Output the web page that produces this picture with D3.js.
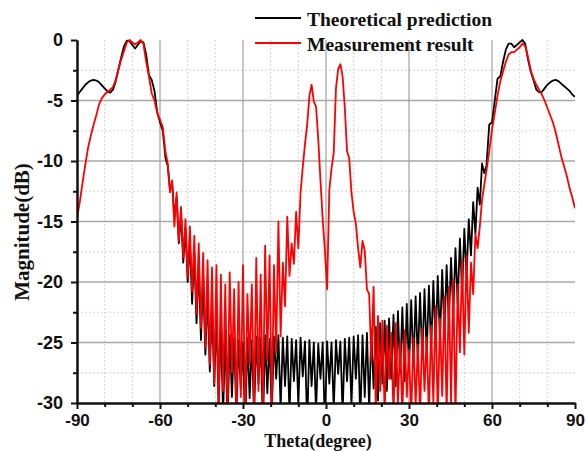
<!DOCTYPE html>
<html>
<head>
<meta charset="utf-8">
<script src="https://cdn.jsdelivr.net/npm/d3@7"></script>
<style>
  body { margin: 0; background: #fff; }
  svg { display: block; }
</style>
</head>
<body>
<svg id="drawing_region"></svg>
<script>
// sample grid of the angle axis (degrees)
const theta = [].concat(
    d3.range(-90, -57.5, 1),
    d3.range(-57.2, 57.3, 0.8),
    d3.range(58, 90.5, 1)
);

// Theoretical prediction (dB)
const theory_left = [
    -4.6, -4.3, -4.0, -3.7, -3.5, -3.35, -3.3, -3.35, -3.5, -3.75,
    -4.0, -4.25, -4.35, -4.1, -3.4, -2.4, -1.4, -0.5, -0.05, -0.1,
    -0.4, -0.7, -0.4, -0.1, -0.2, -1.2, -2.9, -3.3, -4.2, -6.0,
    -6.8, -7.5, -9.8
];
const theory_mid = [
    -10.4, -12.3, -11.9, -14.6, -13.0, -16.8, -14.4, -18.4, -15.6, -20.0,
    -16.6, -21.8, -17.6, -23.4, -18.6, -24.8, -19.8, -26.0, -20.8, -27.4,
    -21.8, -28.6, -22.6, -30.5, -23.4, -31, -24.0, -32, -24.4, -29.5,
    -24.6, -31, -24.8, -28.8, -25.0, -32, -24.6, -29.6, -24.8, -31,
    -24.5, -28.4, -24.6, -32, -24.4, -29.2, -24.7, -31, -24.5, -28.0,
    -24.4, -30.5, -24.6, -28.6, -24.5, -31, -24.7, -28.2, -24.8, -30.2,
    -24.6, -27.8, -24.9, -32, -24.8, -28.6, -25.0, -30.8, -25.1, -28.0,
    -25.0, -32, -24.9, -28.4, -25.0, -30.6, -24.8, -27.6, -24.9, -31,
    -24.7, -28.2, -24.6, -30.2, -24.5, -28.0, -24.4, -31.5, -24.4, -29.5,
    -24.2, -30.5, -24.0, -28.8, -23.7, -29.8, -23.4, -28.4, -23.2, -29.0,
    -23.0, -28.0, -22.7, -28.6, -22.4, -27.6, -22.1, -28.2, -21.8, -27.2,
    -21.5, -27.0, -21.2, -26.6, -20.9, -26.4, -20.6, -26.0, -20.3, -25.6,
    -19.9, -25.2, -19.5, -24.8, -19.0, -24.2, -18.6, -23.4, -18.0, -22.6,
    -17.2, -21.8, -16.4, -20.8, -15.6, -19.6, -14.8, -17.8, -13.4, -16.0,
    -12.2, -13.6, -10.2, -11.0
];
const theory_right = [
    -10.4, -7.0, -6.8, -5.0, -3.2, -3.0, -1.8, -0.8, -0.3, -0.3,
    -0.6, -0.4, -0.2, 0, -0.3, -1.6, -2.6, -3.3, -4.1, -4.3,
    -4.3, -4.0, -3.7, -3.5, -3.35, -3.3, -3.4, -3.6, -3.8, -4.0,
    -4.2, -4.5, -4.7
];

// Measurement result (dB)
const measured_left = [
    -14.7, -13.4, -11.8, -10.3, -8.9, -7.9, -7.0, -6.2, -5.3, -4.8,
    -4.5, -4.3, -4.1, -3.9, -3.3, -2.4, -1.6, -0.9, -0.2, 0,
    -0.2, -0.35, -0.2, 0, -0.3, -1.8, -3.0, -4.4, -5.0, -6.0,
    -6.6, -7.2, -9.3
];
const measured_mid = [
    -10.2, -12.6, -11.6, -15.4, -12.6, -16.6, -13.8, -18.0, -14.8, -19.6,
    -15.4, -20.8, -16.2, -22.6, -16.8, -23.8, -17.6, -25.4, -18.2, -26.8,
    -18.8, -28.4, -18.6, -30.5, -19.4, -29.0, -20.2, -31, -19.2, -27.5,
    -20.6, -31, -20.0, -29.5, -18.6, -31, -21.0, -26.8, -20.2, -31,
    -18.0, -29.0, -19.4, -31, -17.0, -26.5, -17.8, -30.5, -18.6, -25.8,
    -15.0, -24.5, -18.4, -22.0, -14.6, -19.5, -16.8, -18.5, -14.2, -17.2,
    -12.6, -10.5, -8.6, -7.0, -4.6, -3.7, -5.1, -5.5, -8.2, -11.6,
    -14.8, -17.4, -20.6, -12.4, -10.6, -9.3, -4.0, -2.4, -2.0, -3.0,
    -5.6, -9.2, -9.8, -12.6, -14.2, -15.2, -17.2, -18.8, -16.6, -17.4,
    -20.6, -21.0, -26.5, -20.4, -30.5, -22.8, -29.0, -23.2, -31, -23.6,
    -28.0, -24.2, -31, -23.4, -30.0, -25.0, -31, -24.0, -29.5, -25.6,
    -31, -24.6, -30.2, -25.2, -31, -23.8, -29.0, -24.6, -31, -23.6,
    -30.0, -22.0, -31, -23.0, -29.4, -21.2, -31, -20.4, -30.0, -19.8,
    -31, -20.2, -25.8, -18.2, -26.0, -17.8, -24.2, -18.4, -21.0, -16.0,
    -17.2, -15.4, -13.2, -12.0
];
const measured_right = [
    -10.8, -9.2, -7.4, -6.0, -4.6, -3.4, -2.6, -1.8, -1.2, -1.0,
    -1.0, -0.8, -0.6, -0.3, -0.5, -1.4, -2.5, -3.2, -3.7, -4.1,
    -4.5, -5.0, -5.6, -6.2, -6.8, -7.6, -8.6, -9.6, -10.4, -11.2,
    -12.2, -13.0, -13.9
];

const x_ticks = [-90, -60, -30, 0, 30, 60, 90];
const y_ticks = [-30, -25, -20, -15, -10, -5, 0];
const series_names = ['Theoretical prediction', 'Measurement result'];

class LineChart {

    constructor( config, data ) {
        this.config = {
            parent: config.parent,
            width: config.width || 587,
            height: config.height || 451,
            margin: config.margin || {top:40, right:12, bottom:48, left:77}
        };
        this.data = data;
        this.init();
    }

    init() {
        let self = this;

        self.svg = d3.select( self.config.parent )
            .attr('width', self.config.width)
            .attr('height', self.config.height);

        self.inner_width = self.config.width - self.config.margin.left - self.config.margin.right;
        self.inner_height = self.config.height - self.config.margin.top - self.config.margin.bottom;

        self.chart = self.svg.append('g')
            .attr('transform', `translate(${self.config.margin.left}, ${self.config.margin.top})`);

        self.xscale = d3.scaleLinear()
            .domain([-90, 90])
            .range([0, self.inner_width]);

        self.yscale = d3.scaleLinear()
            .domain([-30, 0])
            .range([self.inner_height, 0]);

        self.svg.append('clipPath').attr('id', 'plot_clip')
            .append('rect')
            .attr('x', 0).attr('y', -10)
            .attr('width', self.inner_width)
            .attr('height', self.inner_height + 10);
    }

    render() {
        let self = this;
        const W = self.inner_width, H = self.inner_height;

        // minor dashed grid
        const grid = self.chart.append('g');
        grid.selectAll('.vminor')
            .data(d3.range(-80, 90, 10).filter(v => v % 30 !== 0))
            .join('line')
            .attr('x1', d => self.xscale(d)).attr('x2', d => self.xscale(d))
            .attr('y1', 0).attr('y2', H)
            .attr('stroke', '#d4d4d4').attr('stroke-dasharray', '2,2');
        grid.selectAll('.hminor')
            .data(d3.range(-27.5, 0, 5))
            .join('line')
            .attr('y1', d => self.yscale(d)).attr('y2', d => self.yscale(d))
            .attr('x1', 0).attr('x2', W)
            .attr('stroke', '#d4d4d4').attr('stroke-dasharray', '2,2');

        // major grid
        grid.selectAll('.vmajor')
            .data(x_ticks.filter(v => v > -90 && v < 90))
            .join('line')
            .attr('x1', d => self.xscale(d)).attr('x2', d => self.xscale(d))
            .attr('y1', 0).attr('y2', H)
            .attr('stroke', '#a8a8a8').attr('stroke-width', 1.3);
        grid.selectAll('.hmajor')
            .data(y_ticks.filter(v => v > -30 && v < 0))
            .join('line')
            .attr('y1', d => self.yscale(d)).attr('y2', d => self.yscale(d))
            .attr('x1', 0).attr('x2', W)
            .attr('stroke', '#a8a8a8').attr('stroke-width', 1.3);

        // curves
        const line = d3.line()
            .x(d => self.xscale(d.theta))
            .y(d => self.yscale(d.value));

        self.chart.append('g')
            .attr('clip-path', 'url(#plot_clip)')
            .selectAll('path')
            .data(self.data)
            .join('path')
            .attr('d', d => line(d.values))
            .attr('fill', 'none')
            .attr('stroke', d => d.color)
            .attr('stroke-width', 1.8)
            .attr('stroke-linejoin', 'round');

        // axes (plain hyphen for negative labels, as in the original)
        const fmt = d => String(d);
        const xaxis = d3.axisBottom(self.xscale)
            .tickValues(x_ticks).tickFormat(fmt)
            .tickSize(6).tickPadding(5).tickSizeOuter(0);
        const xminor = d3.axisBottom(self.xscale)
            .tickValues(d3.range(-80, 90, 10).filter(v => v % 30 !== 0))
            .tickSize(4).tickFormat('').tickSizeOuter(0);
        const yaxis = d3.axisLeft(self.yscale)
            .tickValues(y_ticks).tickFormat(fmt)
            .tickSize(6).tickPadding(8).tickSizeOuter(0);
        const yminor = d3.axisLeft(self.yscale)
            .tickValues(d3.range(-27.5, 0, 5))
            .tickSize(4).tickFormat('').tickSizeOuter(0);

        const xg = self.chart.append('g').attr('transform', `translate(0, ${H})`).call(xaxis);
        self.chart.append('g').attr('transform', `translate(0, ${H})`).call(xminor);
        const yg = self.chart.append('g').call(yaxis);
        self.chart.append('g').call(yminor);

        self.chart.selectAll('.domain, .tick line')
            .attr('stroke', '#111').attr('stroke-width', 2);
        [xg, yg].forEach(g => g.selectAll('text')
            .attr('font-family', '"Liberation Sans", Arial, sans-serif')
            .attr('font-weight', 'bold')
            .attr('fill', '#111'));
        xg.selectAll('text').attr('font-size', 17);
        yg.selectAll('text').attr('font-size', 18);

        // axis titles
        self.svg.append('text')
            .attr('x', 318).attr('y', 446.5)
            .attr('text-anchor', 'middle')
            .attr('font-family', '"Liberation Serif", "Times New Roman", serif')
            .attr('font-weight', 'bold').attr('font-size', 18)
            .attr('fill', '#111')
            .text('Theta(degree)');
        self.svg.append('text')
            .attr('transform', 'translate(29, 232) rotate(-90)')
            .attr('text-anchor', 'middle')
            .attr('font-family', '"Liberation Serif", "Times New Roman", serif')
            .attr('font-weight', 'bold').attr('font-size', 21)
            .attr('fill', '#111')
            .text('Magnitude(dB)');

        // legend
        const legend = self.svg.append('g').attr('transform', 'translate(255, 18)');
        const item = legend.selectAll('g')
            .data(self.data)
            .join('g')
            .attr('transform', (d, i) => `translate(0, ${i * 25})`);
        item.append('line')
            .attr('x1', 0).attr('x2', 46)
            .attr('stroke', d => d.color).attr('stroke-width', 2.2);
        item.append('text')
            .attr('x', 52).attr('y', 8)
            .attr('font-family', '"Liberation Serif", "Times New Roman", serif')
            .attr('font-weight', 'bold').attr('font-size', 19.5)
            .attr('fill', '#111')
            .text(d => d.name);
    }
}

const theory = theory_left.concat(theory_mid, theory_right);
const measured = measured_left.concat(measured_mid, measured_right);

const data = [
    {name: series_names[0], color: '#000000', values: theta.map((t, i) => ({theta: t, value: theory[i]}))},
    {name: series_names[1], color: '#ff0000', values: theta.map((t, i) => ({theta: t, value: measured[i]}))}
];

const config = {
    parent: '#drawing_region',
    width: 587,
    height: 451,
    margin: {top:40, right:12, bottom:48, left:77}
};

const line_chart = new LineChart( config, data );
line_chart.render();
</script>
</body>
</html>
